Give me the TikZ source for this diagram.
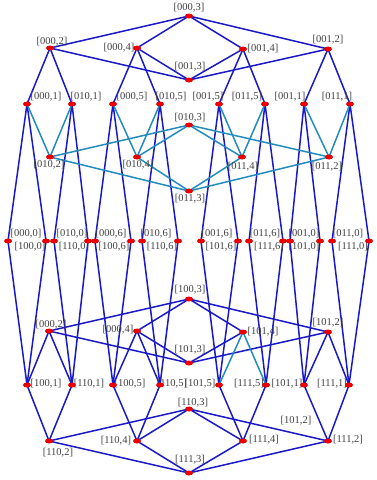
\documentclass[tikz,border=0pt]{standalone}
\usepackage{fontspec}
\setmainfont{Liberation Serif}
\usetikzlibrary{shapes.geometric}
\pgfdeclarelayer{bg}
\pgfsetlayers{bg,main}
\definecolor{eblue}{RGB}{25,25,200}
\definecolor{eteal}{RGB}{35,140,190}
\definecolor{vred}{RGB}{235,0,0}
\begin{document}
\begin{tikzpicture}[x=1pt,y=-1pt,
  v/.style={ellipse,fill=vred,minimum width=8pt,minimum height=5pt,inner sep=0pt},
  lab/.style={font=\fontsize{10.5}{12}\selectfont,inner sep=0pt,text=black!75},
  be/.style={draw=eblue,line width=1.5pt},
  te/.style={draw=eteal,line width=1.5pt}]
\useasboundingbox (0,0) rectangle (376,480);
% ---------- labels ----------
\foreach \n/\x/\y/\t in {
  l1/189/8/{[000,3]}, l2/52/42/{[000,2]}, l3/119/48/{[000,4]}, l4/190/67/{[001,3]},
  l5/263/49/{[001,4]}, l6/328/40/{[001,2]},
  l7/46/97/{[000,1]}, l8/86/97/{[010,1]}, l9/132/97/{[000,5]}, l10/171/97/{[010,5]},
  l11/208/97/{[001,5]}, l12/247/97/{[011,5]}, l13/290/97/{[001,1]}, l14/337/97/{[011,1]},
  l15/190/118/{[010,3]}, l16/49/165/{[010,2]}, l17/138/165/{[010,4]}, l18/243/167/{[011,4]},
  l19/327/167/{[011,2]}, l20/190/199/{[011,3]},
  l21/26/234/{[000,0]}, l22/72/234/{[010,0]}, l23/111/234/{[000,6]}, l24/156/234/{[010,6]},
  l25/217/234/{[001,6]}, l26/265/234/{[011,6]}, l27/304/234/{[001,0]}, l28/348/234/{[011,0]},
  l29/30/247/{[100,0]}, l30/74/247/{[110,0]}, l31/114/247/{[100,6]}, l32/162/247/{[110,6]},
  l33/221/247/{[101,6]}, l34/269/247/{[111,6]}, l35/304/247/{[101,0]}, l36/353/247/{[111,0]},
  l37/190/290/{[100,3]}, l38/51/325/{[000,2]}, l39/118/330/{[000,4]}, l40/263/332/{[101,4]},
  l41/328/323/{[101,2]}, l42/190/350/{[101,3]},
  l43/46/384/{[100,1]}, l44/89/384/{[110,1]}, l45/130/384/{[100,5]}, l46/172/384/{[110,5]},
  l47/200/384/{[101,5]}, l48/249/384/{[111,5]}, l49/287/384/{[101,1]}, l50/332/384/{[111,1]},
  l51/193/403/{[110,3]}, l52/58/453/{[110,2]}, l53/116/441/{[110,4]}, l54/264/440/{[111,4]},
  l55/348/440/{[111,2]}, l56/296/421/{[101,2]}, l57/190/460/{[111,3]}}
  \node[lab] (\n) at (\x,\y) {\t};
% ---------- vertices ----------
\foreach \n/\x/\y in {
  n0003/189/16, n0002/50/48, n0004/137/48, n0014/243/49, n0012/328/49, n0013/189/80,
  n0001/27/104, n0101/72/104, n0005/113/104, n0105/160/104,
  n0015/219/104, n0115/265/104, n0011/304/104, n0111/350/104,
  n0103/189/125, n0102/50/157, n0104/137/157, n0114/242/157, n0112/329/157, n0113/189/191,
  m0000/8/241, m1000/46/241, m0100/54/241, m1100/88/241,
  m0006/95/241, m1006/131/241, m0106/142/241, m1106/178/241,
  m0016/201/241, m1016/238/241, m0116/249/241, m1116/283/241,
  m0010/290/241, m1010/320/241, m0110/332/241, m1110/369/241,
  n1003/189/299, b0002/49/331, b0004/137/331, n1014/243/332, n1012/328/332, n1013/189/363,
  n1001/27/385, n1101/72/385, n1005/113/385, n1105/160/385,
  n1015/219/385, n1115/266/385, n1011/304/385, n1111/349/385,
  n1103/189/409, n1102/49/441, n1104/137/441, n1114/243/441, n1112/328/441, n1113/189/473}
  \node[v] (\n) at (\x,\y) {};
% ---------- edges ----------
\begin{pgfonlayer}{bg}
\fill[white] (0,0) rectangle (376,480);
\foreach \a/\b in {
  n0003/n0002, n0003/n0004, n0003/n0014, n0003/n0012,
  n0013/n0002, n0013/n0004, n0013/n0014, n0013/n0012,
  n0002/n0001, n0002/n0101, n0004/n0005, n0004/n0105,
  n0014/n0015, n0014/n0115, n0012/n0011, n0012/n0111,
  n0001/m0000, n0001/m1000, n0101/m0100, n0101/m1100,
  n0005/m0006, n0005/m1006, n0105/m0106, n0105/m1106,
  n0015/m0016, n0015/m1016, n0115/m0116, n0115/m1116,
  n0011/m0010, n0011/m1010, n0111/m0110, n0111/m1110,
  n1001/m0000, n1001/m1000, n1101/m0100, n1101/m1100,
  n1005/m0006, n1005/m1006, n1105/m0106, n1105/m1106,
  n1015/m0016, n1015/m1016, n1115/m0116, n1115/m1116,
  n1011/m0010, n1011/m1010, n1111/m0110, n1111/m1110,
  n1003/b0002, n1003/b0004, n1003/n1014, n1003/n1012,
  n1013/b0002, n1013/b0004, n1013/n1014, n1013/n1012,
  b0002/n1001, b0002/n1101, b0004/n1005, b0004/n1105,
  n1012/n1011, n1012/n1111,
  n1103/n1102, n1103/n1104, n1103/n1114, n1103/n1112,
  n1113/n1102, n1113/n1104, n1113/n1114, n1113/n1112,
  n1102/n1001, n1102/n1101, n1104/n1005, n1104/n1105,
  n1114/n1015, n1114/n1115, n1112/n1011, n1112/n1111}
  \draw[be] (\a.center) -- (\b.center);
\foreach \a/\b in {
  n0102/n0001, n0102/n0101, n0104/n0005, n0104/n0105,
  n0114/n0015, n0114/n0115, n0112/n0011, n0112/n0111,
  n0103/n0102, n0103/n0104, n0103/n0114, n0103/n0112,
  n0113/n0102, n0113/n0104, n0113/n0114, n0113/n0112,
  n1014/n1015, n1014/n1115}
  \draw[te] (\a.center) -- (\b.center);
\end{pgfonlayer}
\end{tikzpicture}
\end{document}
